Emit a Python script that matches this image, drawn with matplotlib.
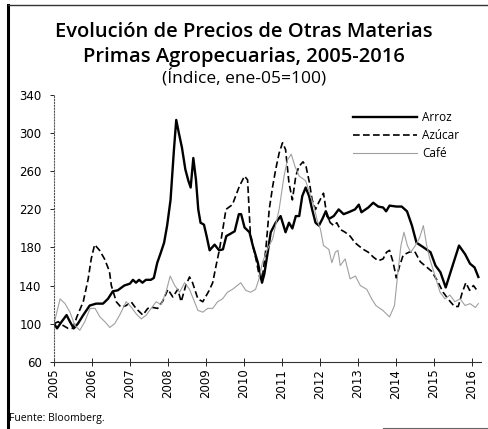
import matplotlib
matplotlib.use("Agg")
import matplotlib.pyplot as plt
from matplotlib.lines import Line2D

# datos (anio decimal, indice ene-05=100)
arroz_t = [2005.0, 2005.08, 2005.2, 2005.33, 2005.42, 2005.52, 2005.63, 2005.77, 2005.94, 2006.11,
           2006.29, 2006.42, 2006.55, 2006.68, 2006.85, 2007.0, 2007.08, 2007.16, 2007.24, 2007.33,
           2007.42, 2007.55, 2007.63, 2007.72, 2007.8, 2007.9, 2007.98, 2008.07, 2008.16, 2008.22,
           2008.29, 2008.37, 2008.46, 2008.54, 2008.6, 2008.67, 2008.74, 2008.8, 2008.86, 2008.95,
           2009.02, 2009.1, 2009.23, 2009.35, 2009.45, 2009.54, 2009.63, 2009.76, 2009.87, 2009.93,
           2010.02, 2010.15, 2010.23, 2010.37, 2010.48, 2010.54, 2010.63, 2010.71, 2010.84, 2010.97,
           2011.1, 2011.19, 2011.28, 2011.37, 2011.46, 2011.54, 2011.63, 2011.72, 2011.8, 2011.89,
           2011.98, 2012.07, 2012.16, 2012.24, 2012.37, 2012.5, 2012.63, 2012.76, 2012.93, 2013.03,
           2013.1, 2013.28, 2013.41, 2013.54, 2013.67, 2013.75, 2013.84, 2014.02, 2014.16, 2014.3,
           2014.43, 2014.55, 2014.74, 2014.92, 2015.05, 2015.18, 2015.32, 2015.47, 2015.67, 2015.83,
           2015.96, 2016.08, 2016.18]
arroz_v = [100, 95, 102, 109, 102, 95, 100, 109, 119, 121,
           121, 126, 134, 135, 140, 142, 146, 143, 146, 143,
           146, 146, 148, 164, 173, 185, 203, 230, 283, 314,
           300, 285, 262, 250, 243, 274, 251, 220, 206, 204,
           192, 177, 183, 177, 178, 192, 194, 197, 215, 215,
           201, 196, 183, 164, 143, 152, 175, 196, 206, 213,
           196, 206, 200, 213, 213, 234, 243, 234, 220, 206,
           203, 210, 218, 210, 213, 220, 215, 217, 220, 225,
           217, 222, 227, 223, 222, 218, 224, 223, 223, 218,
           203, 185, 180, 175, 161, 154, 138, 157, 182, 173,
           163, 159, 149]

azucar_t = [2005.0, 2005.11, 2005.24, 2005.37, 2005.5, 2005.6, 2005.77, 2005.9, 2005.98, 2006.07,
            2006.2, 2006.33, 2006.46, 2006.51, 2006.64, 2006.77, 2006.9, 2007.03, 2007.16, 2007.34,
            2007.47, 2007.6, 2007.73, 2007.87, 2008.0, 2008.13, 2008.26, 2008.35, 2008.47, 2008.57,
            2008.65, 2008.79, 2008.92, 2009.09, 2009.18, 2009.27, 2009.36, 2009.45, 2009.53, 2009.7,
            2009.88, 2010.02, 2010.1, 2010.17, 2010.23, 2010.32, 2010.41, 2010.48, 2010.58, 2010.67,
            2010.76, 2010.84, 2010.93, 2011.02, 2011.1, 2011.19, 2011.28, 2011.37, 2011.45, 2011.56,
            2011.64, 2011.73, 2011.8, 2011.89, 2011.97, 2012.1, 2012.19, 2012.28, 2012.37, 2012.45,
            2012.54, 2012.67, 2012.8, 2012.93, 2013.02, 2013.15, 2013.28, 2013.41, 2013.54, 2013.67,
            2013.76, 2013.84, 2013.93, 2014.02, 2014.1, 2014.2, 2014.35, 2014.5, 2014.65, 2014.8,
            2014.95, 2015.1, 2015.25, 2015.4, 2015.55, 2015.65, 2015.75, 2015.85, 2015.95, 2016.05,
            2016.18]
azucar_v = [100, 102, 98, 95, 95, 107, 123, 147, 168, 183,
            177, 168, 155, 140, 123, 117, 119, 123, 116, 109,
            116, 117, 116, 124, 136, 128, 136, 123, 140, 149,
            143, 126, 123, 135, 143, 161, 178, 200, 220, 225,
            244, 255, 251, 196, 183, 168, 150, 145, 178, 220,
            244, 262, 279, 290, 283, 248, 230, 255, 265, 270,
            265, 248, 230, 220, 227, 237, 213, 206, 203, 206,
            199, 196, 192, 185, 182, 178, 175, 170, 166, 168,
            175, 177, 165, 148, 160, 172, 175, 176, 165, 160,
            155, 145, 133, 125, 118, 118, 132, 143, 135, 140,
            133]

cafe_t = [2005.0, 2005.16, 2005.29, 2005.42, 2005.55, 2005.68, 2005.81, 2005.95, 2006.08, 2006.21,
          2006.34, 2006.47, 2006.6, 2006.73, 2006.9, 2007.04, 2007.17, 2007.3, 2007.43, 2007.56,
          2007.69, 2007.82, 2007.95, 2008.06, 2008.18, 2008.31, 2008.44, 2008.57, 2008.7, 2008.79,
          2008.92, 2009.05, 2009.18, 2009.31, 2009.44, 2009.57, 2009.7, 2009.83, 2009.92, 2010.05,
          2010.18, 2010.31, 2010.4, 2010.49, 2010.62, 2010.76, 2010.93, 2011.06, 2011.15, 2011.25,
          2011.35, 2011.46, 2011.63, 2011.76, 2011.85, 2011.93, 2012.02, 2012.1, 2012.24, 2012.32,
          2012.41, 2012.48, 2012.54, 2012.67, 2012.8, 2012.94, 2013.07, 2013.24, 2013.37, 2013.48,
          2013.66, 2013.84, 2013.97, 2014.05, 2014.14, 2014.22, 2014.31, 2014.4, 2014.52, 2014.63,
          2014.73, 2014.82, 2014.9, 2015.04, 2015.17, 2015.3, 2015.43, 2015.56, 2015.7, 2015.83,
          2015.96, 2016.1, 2016.18]
cafe_v = [100, 126, 121, 112, 98, 93, 102, 116, 116, 107,
          102, 96, 100, 109, 123, 117, 110, 105, 109, 116,
          123, 120, 133, 150, 140, 133, 143, 136, 123, 114,
          112, 116, 116, 123, 126, 133, 136, 140, 143, 135,
          133, 136, 147, 164, 178, 189, 220, 255, 272, 278,
          265, 255, 250, 234, 223, 209, 199, 182, 178, 164,
          175, 177, 161, 168, 147, 150, 140, 136, 126, 119,
          114, 107, 119, 150, 182, 196, 182, 175, 182, 190,
          203, 182, 168, 150, 133, 126, 130, 123, 126, 119,
          121, 117, 121]

years = list(range(2005, 2017))

fig = plt.figure(figsize=(4.88, 4.29), dpi=100)
ax = fig.add_axes([0.1107, 0.1569, 0.8750, 0.6212])

ax.plot(arroz_t, arroz_v, color="black", lw=1.7, label="Arroz")
ax.plot(azucar_t, azucar_v, color="black", lw=1.2, dashes=(4, 2), label="Azúcar")
ax.plot(cafe_t, cafe_v, color="#a0a0a0", lw=0.8, label="Café")

ax.set_xlim(2005, 2016.25)
ax.set_ylim(60, 340)
ax.set_yticks(range(60, 341, 40))
ax.set_xticks(years)
ax.set_xticklabels([str(y) for y in years], rotation=90)
ax.tick_params(axis="x", direction="inout", length=6, width=0.6, labelsize=8.5, pad=2)
ax.tick_params(axis="y", direction="out", length=3, width=0.6, labelsize=8.5, pad=6)

for s in ["top", "right"]:
    ax.spines[s].set_visible(False)
ax.spines["left"].set_linestyle(":")
ax.spines["left"].set_color("#555555")
ax.spines["bottom"].set_color("#333333")
ax.spines["bottom"].set_linewidth(0.8)

ax.legend(loc="upper left", bbox_to_anchor=(0.723, 0.742), bbox_transform=fig.transFigure,
          frameon=False, handlelength=5.4, handletextpad=0.5,
          labelspacing=0.45, borderpad=0, borderaxespad=0, prop={"family": "Open Sans", "size": 8.5})

fig.text(0.5, 1 - 32 / 429, "Evolución de Precios de Otras Materias", ha="center", va="center",
         fontsize=14.5, fontweight="semibold", family="Open Sans")
fig.text(0.5, 1 - 57 / 429, "Primas Agropecuarias, 2005-2016", ha="center", va="center",
         fontsize=14.5, fontweight="semibold", family="Open Sans")
fig.text(0.5, 1 - 78 / 429, "(Índice, ene-05=100)", ha="center", va="center",
         fontsize=12.5, family="Open Sans")
fig.text(9 / 488, 1 - 418 / 429, "Fuente: Bloomberg.", ha="left", va="center",
         fontsize=7.5, family="Open Sans")

# marco de la pagina
fig.add_artist(Line2D([8 / 488, 8 / 488], [0, 1 - 5 / 429], color="black", lw=2.2,
                      transform=fig.transFigure))
fig.add_artist(Line2D([8 / 488, 1], [1 - 5 / 429, 1 - 5 / 429], color="#333333", lw=1.0,
                      transform=fig.transFigure))
fig.add_artist(Line2D([383 / 488, 1], [1 / 429, 1 / 429], color="#666666", lw=0.8,
                      transform=fig.transFigure))

fig.savefig("out.png", dpi=100)
